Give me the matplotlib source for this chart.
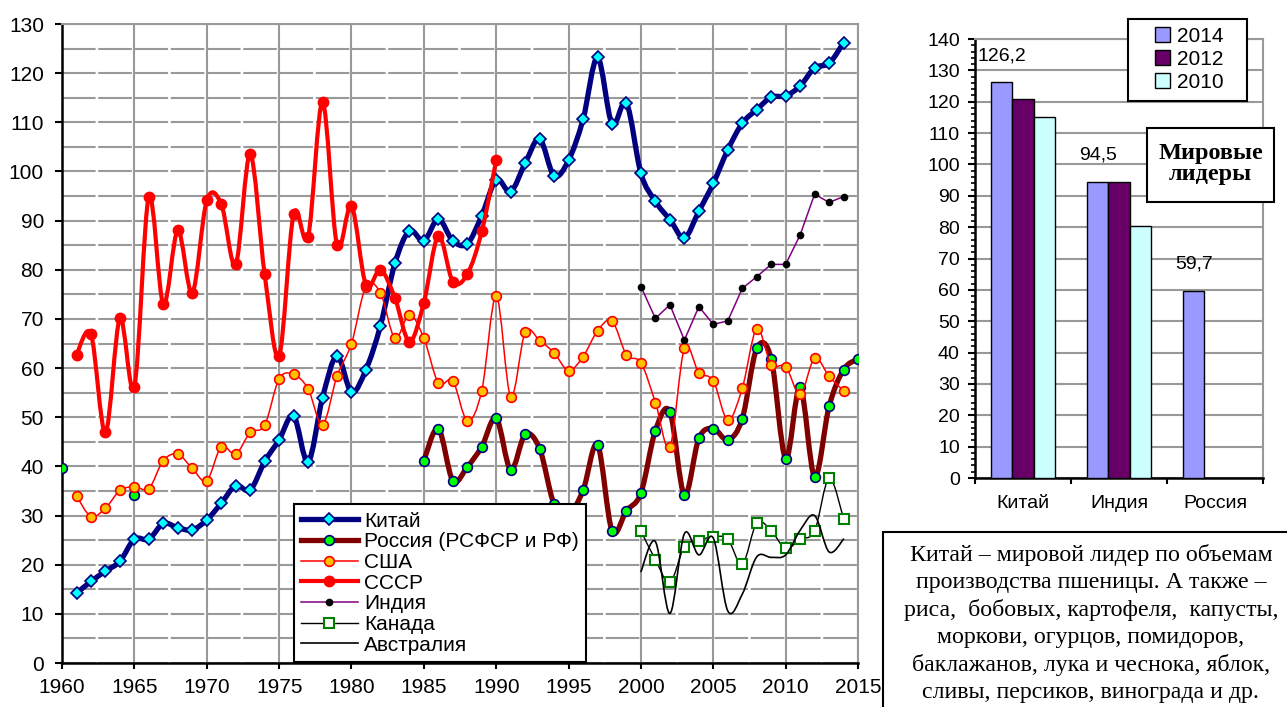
import numpy as np
import matplotlib
matplotlib.use("Agg")
import matplotlib.pyplot as plt
from matplotlib.path import Path
from matplotlib.patches import PathPatch, Rectangle
from matplotlib.lines import Line2D
from matplotlib.ticker import MultipleLocator

plt.rcParams["font.family"] = ["Liberation Sans", "DejaVu Sans"]
plt.rcParams["lines.scale_dashes"] = False

# wheat production, mln t
years_china = list(range(1961, 2015))
china = [14.2, 16.6, 18.7, 20.7, 25.2, 25.2, 28.4, 27.5, 27.1, 29.1,
         32.5, 36.1, 35.2, 41.0, 45.4, 50.3, 40.9, 54.0, 62.5, 55.1,
         59.7, 68.6, 81.3, 87.9, 85.9, 90.3, 85.9, 85.3, 91.0, 98.3,
         95.9, 101.7, 106.6, 99.1, 102.3, 110.6, 123.2, 109.7, 113.9, 99.6,
         93.9, 90.2, 86.5, 91.9, 97.6, 104.4, 109.8, 112.6, 115.1, 115.4,
         117.4, 121.1, 122.0, 126.2]

years_russia = [1960, 1965] + list(range(1985, 2016))
russia = [39.6, 34.2,
          41.2, 47.7, 37.1, 39.9, 44.0, 49.8,
          39.3, 46.5, 43.6, 32.3, 30.3, 35.1, 44.4, 26.9, 31.0, 34.6,
          47.3, 51.1, 34.2, 45.7, 47.7, 45.4, 49.7, 64.0, 61.9, 41.6,
          56.2, 37.9, 52.2, 59.7, 61.9]

years_usa = list(range(1961, 2015))
usa = [34.0, 29.8, 31.5, 35.1, 35.9, 35.5, 41.2, 42.5, 39.6, 37.1,
       44.0, 42.5, 46.9, 48.4, 57.8, 58.7, 55.8, 48.5, 58.4, 65.0,
       76.6, 75.3, 66.1, 70.9, 66.1, 57.0, 57.4, 49.3, 55.4, 74.7,
       54.2, 67.3, 65.6, 63.1, 59.5, 62.3, 67.6, 69.6, 62.7, 61.1,
       53.0, 44.0, 64.0, 59.1, 57.4, 49.4, 55.9, 68.0, 60.7, 60.3,
       54.7, 62.0, 58.3, 55.4]

years_ussr = list(range(1961, 1991))
ussr = [62.7, 66.9, 46.9, 70.1, 56.2, 94.9, 73.0, 88.0, 75.3, 94.1,
        93.4, 81.1, 103.5, 79.1, 62.5, 91.3, 86.7, 114.1, 85.0, 93.0,
        76.9, 80.0, 74.3, 65.4, 73.3, 86.9, 77.6, 79.1, 87.8, 102.3]

years_late = list(range(2000, 2015))
india = [76.6, 70.1, 72.9, 65.7, 72.5, 68.9, 69.6, 76.2, 78.6, 81.1,
         81.1, 87.1, 95.4, 93.7, 94.9]
canada = [26.9, 21.0, 16.4, 23.7, 24.9, 25.7, 25.2, 20.1, 28.5, 26.9,
          23.3, 25.2, 26.9, 37.6, 29.4]
australia = [18.6, 24.7, 10.1, 26.3, 22.0, 25.4, 10.6, 14.0, 21.6, 21.5,
             22.0, 27.0, 30.0, 22.6, 25.2]

# bar chart: world leaders
leaders = ["Китай", "Индия", "Россия"]
bar_years = ["2014", "2012", "2010"]
bar_2014 = [126.2, 94.5, 59.7]
bar_2012 = [120.9, 94.5, np.nan]
bar_2010 = [115.1, 80.5, np.nan]

note_lines = [
    "Китай – мировой лидер по объемам",
    "производства пшеницы. А также –",
    "риса,  бобовых, картофеля,  капусты,",
    "моркови, огурцов, помидоров,",
    "баклажанов, лука и чеснока, яблок,",
    "сливы, персиков, винограда и др.",
]


def smooth_path(xs, ys):
    # Excel-like smoothed line (cubic bezier through the points)
    n = len(xs)
    verts = [(xs[0], ys[0])]
    codes = [Path.MOVETO]
    for i in range(n - 1):
        x0, y0 = (xs[i - 1], ys[i - 1]) if i > 0 else (xs[i], ys[i])
        x1, y1 = xs[i], ys[i]
        x2, y2 = xs[i + 1], ys[i + 1]
        x3, y3 = (xs[i + 2], ys[i + 2]) if i + 2 < n else (x2, y2)
        verts += [(x1 + (x2 - x0) / 6, y1 + (y2 - y0) / 6),
                  (x2 - (x3 - x1) / 6, y2 - (y3 - y1) / 6),
                  (x2, y2)]
        codes += [Path.CURVE4] * 3
    return Path(verts, codes)


def draw_series(ax, xs, ys, color, lw, z, smooth=True, **mk):
    xs = list(xs)
    ys = list(ys)
    # split into runs of consecutive years
    runs = [[0]]
    for i in range(1, len(xs)):
        if xs[i] - xs[i - 1] == 1:
            runs[-1].append(i)
        else:
            runs.append([i])
    for r in runs:
        if len(r) < 2:
            continue
        rx = [xs[i] for i in r]
        ry = [ys[i] for i in r]
        if smooth:
            ax.add_patch(PathPatch(smooth_path(rx, ry), fill=False,
                                   edgecolor=color, lw=lw, zorder=z,
                                   capstyle="round", joinstyle="round"))
        else:
            ax.plot(rx, ry, color=color, lw=lw, zorder=z)
    if mk:
        ax.plot(xs, ys, linestyle="none", zorder=z + 0.5, **mk)


fig = plt.figure(figsize=(12.87, 7.07), dpi=100)

# ---------------- left chart ----------------
ax = fig.add_axes([0.0482, 0.0622, 0.6185, 0.9038])
ax.set_xlim(1960, 2015)
ax.set_ylim(0, 130)
ax.xaxis.set_major_locator(MultipleLocator(5))
ax.yaxis.set_major_locator(MultipleLocator(10))
ax.yaxis.set_minor_locator(MultipleLocator(5))
ax.tick_params(axis="both", which="major", labelsize=15, direction="out",
               width=1.5, color="black")
ax.tick_params(axis="y", which="major", length=5, pad=8)
ax.tick_params(axis="x", which="major", length=4.5, pad=6.5)
ax.tick_params(axis="y", which="minor", length=0)
ax.grid(axis="y", which="both", color="#999999", lw=1.5,
        linestyle=(0, (24.2, 1.9)), zorder=0)
ax.grid(axis="x", which="major", color="#999999", lw=1.5, zorder=0)
ax.set_axisbelow(True)
for s in ["left", "bottom"]:
    ax.spines[s].set_linewidth(1.8)
    ax.spines[s].set_color("black")
for s in ["top", "right"]:
    ax.spines[s].set_linewidth(1.5)
    ax.spines[s].set_color("#999999")

draw_series(ax, years_china, china, "#000080", 3.8, 3,
            marker="D", ms=6.5, mfc="#00FFFF", mec="#000080", mew=1.2)
draw_series(ax, years_russia, russia, "#800000", 3.8, 4,
            marker="o", ms=7, mfc="#00FF00", mec="#000080", mew=1.2)
draw_series(ax, years_usa, usa, "#FF0000", 1.1, 5,
            marker="o", ms=7, mfc="#FFC000", mec="#FF0000", mew=1.2)
draw_series(ax, years_ussr, ussr, "#FF0000", 3.0, 6,
            marker="o", ms=7.5, mfc="#FF0000", mec="#FF0000", mew=1.0)
draw_series(ax, years_late, india, "#800080", 1.1, 7, smooth=False,
            marker="o", ms=4.5, mfc="black", mec="black")
draw_series(ax, years_late, canada, "black", 1.0, 8,
            marker="s", ms=7.5, mfc="white", mec="#008000", mew=1.5)
draw_series(ax, years_late, australia, "black", 1.2, 9)

handles = [
    Line2D([], [], color="#000080", lw=3.8, marker="D", ms=6.5,
           mfc="#00FFFF", mec="#000080", mew=1.2),
    Line2D([], [], color="#800000", lw=3.8, marker="o", ms=7,
           mfc="#00FF00", mec="#000080", mew=1.2),
    Line2D([], [], color="#FF0000", lw=1.1, marker="o", ms=7,
           mfc="#FFC000", mec="#FF0000", mew=1.2),
    Line2D([], [], color="#FF0000", lw=3.0, marker="o", ms=7.5,
           mfc="#FF0000", mec="#FF0000"),
    Line2D([], [], color="#800080", lw=1.1, marker="o", ms=4.5,
           mfc="black", mec="black"),
    Line2D([], [], color="black", lw=1.0, marker="s", ms=7.5,
           mfc="white", mec="#008000", mew=1.5),
    Line2D([], [], color="black", lw=1.2),
]
labels = ["Китай", "Россия (РСФСР и РФ)", "США", "СССР", "Индия",
          "Канада", "Австралия"]
leg = ax.legend(handles, labels, loc="lower left",
                bbox_to_anchor=(294 / 1287, 45 / 707),
                bbox_transform=fig.transFigure, fontsize=15,
                frameon=True, fancybox=False, framealpha=1,
                edgecolor="black", borderpad=0.35, labelspacing=0.08,
                handlelength=2.7, handletextpad=0.3, borderaxespad=0)
leg.get_frame().set_linewidth(1.5)
leg.set_zorder(20)

# ---------------- right chart ----------------
bx = fig.add_axes([0.7576, 0.3239, 0.2238, 0.6209])
xpos = np.arange(len(leaders)) + 0.5
w = 0.22
b1 = bx.bar(xpos - w, bar_2014, w, color="#9999FF", edgecolor="black",
            lw=1.0, zorder=3, label=bar_years[0])
b2 = bx.bar(xpos, bar_2012, w, color="#660066", edgecolor="black",
            lw=1.0, zorder=3, label=bar_years[1])
b3 = bx.bar(xpos + w, bar_2010, w, color="#CCFFFF", edgecolor="black",
            lw=1.0, zorder=3, label=bar_years[2])
for xi, v in zip(xpos - w, bar_2014):
    bx.annotate(f"{v:.1f}".replace(".", ","), (xi, v), xytext=(0, 19),
                textcoords="offset points", ha="center", va="center",
                fontsize=14)
bx.set_xlim(0, 3)
bx.set_ylim(0, 140)
bx.yaxis.set_major_locator(MultipleLocator(10))
bx.yaxis.set_minor_locator(MultipleLocator(2))
bx.set_xticks([0, 1, 2, 3])
bx.set_xticklabels([])
bx.set_xticks(xpos, minor=True)
bx.set_xticklabels(leaders, minor=True, fontsize=14)
bx.tick_params(axis="x", which="minor", length=0, pad=12)
bx.tick_params(axis="x", which="major", length=4.5, width=1.5)
bx.tick_params(axis="y", which="major", length=5, width=1.5, labelsize=14,
               pad=6)
bx.tick_params(axis="y", which="minor", length=3, width=1.2)
bx.grid(axis="y", which="major", color="#999999", lw=1.5, zorder=0)
bx.set_axisbelow(True)
for s in ["left", "bottom"]:
    bx.spines[s].set_linewidth(1.8)
for s in ["top", "right"]:
    bx.spines[s].set_linewidth(1.5)
    bx.spines[s].set_color("#999999")

# legend of the bar chart, with its own wider box
bx.add_patch(Rectangle((1128 / 1287, 1 - 101 / 707), 119 / 1287,
                       82 / 707, transform=fig.transFigure, clip_on=False,
                       facecolor="white", edgecolor="black", lw=1.5,
                       zorder=10))
bleg = bx.legend(handles=[b1, b2, b3], loc="upper left",
                 bbox_to_anchor=(1155 / 1287, 1 - 27 / 707),
                 bbox_transform=fig.transFigure, fontsize=15,
                 frameon=False, borderpad=0.0, labelspacing=0.18,
                 handlelength=0.7, handleheight=0.7, handletextpad=0.35,
                 borderaxespad=0)
bleg.set_zorder(12)

fig.patches.append(Rectangle((1147 / 1287, 1 - 202 / 707), 127 / 1287,
                             74 / 707, transform=fig.transFigure,
                             facecolor="white", edgecolor="black", lw=1.5,
                             zorder=10))
fig.text(1210.5 / 1287, 1 - 164 / 707, "Мировые\nлидеры",
         family="Liberation Serif", weight="bold", fontsize=17.5,
         ha="center", va="center", linespacing=1.05, zorder=11)

# ---------------- note box ----------------
fig.patches.append(Rectangle((883 / 1287, -0.05), 0.5, 0.05 + 175 / 707,
                             transform=fig.transFigure, facecolor="white",
                             edgecolor="black", lw=1.5, zorder=10))
fig.text(1091 / 1287, 1 - 623.5 / 707, "\n".join(note_lines),
         family="Liberation Serif", fontsize=17.2, ha="center", va="center",
         multialignment="center", linespacing=1.37, zorder=11)

fig.savefig("out.png", dpi=100)
